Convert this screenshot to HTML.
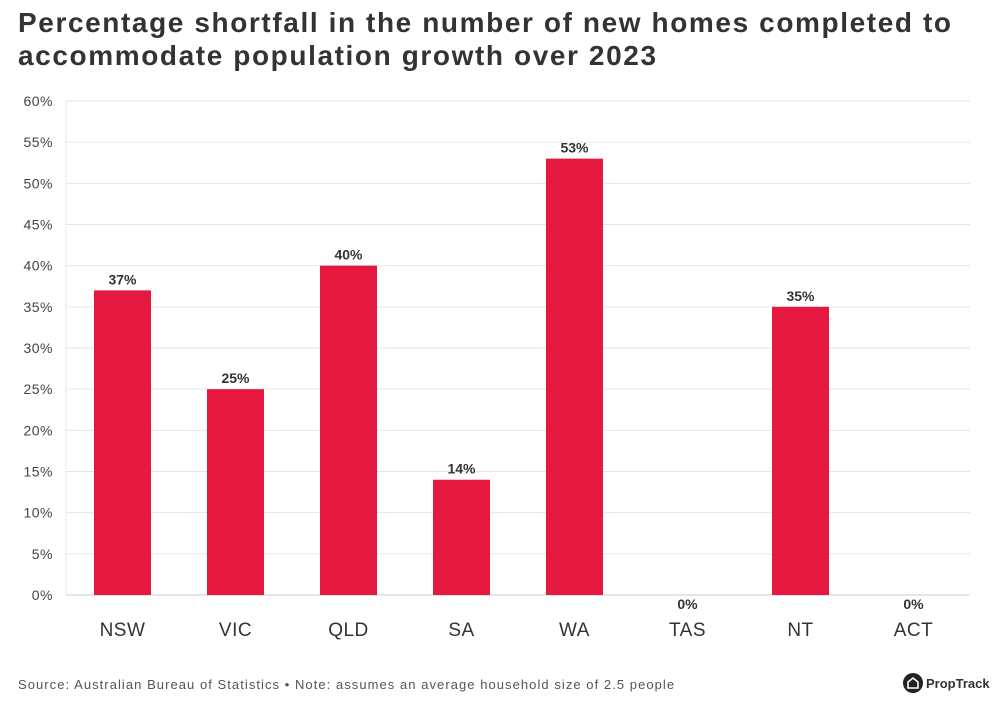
<!DOCTYPE html>
<html><head><meta charset="utf-8"><style>
body{margin:0;background:#fff;font-family:"Liberation Sans",sans-serif;}
#wrap{position:relative;width:998px;height:703px;overflow:hidden;}
h1{position:absolute;left:18px;top:6px;margin:0;font-size:28px;letter-spacing:1.6px;line-height:33px;font-weight:bold;color:#333;white-space:nowrap;}
.src{position:absolute;left:18px;top:677px;font-size:13px;letter-spacing:1.05px;color:#555;white-space:nowrap;}
.logo{position:absolute;left:903px;top:673px;font-size:13px;font-weight:bold;color:#333;display:flex;align-items:center;gap:3px;}
</style></head><body><div id="wrap">
<h1>Percentage shortfall in the number of new homes completed to<br>accommodate population growth over 2023</h1>
<svg id="chart" width="998" height="703" style="position:absolute;left:0;top:0"></svg>
<div class="src">Source: Australian Bureau of Statistics • Note: assumes an average household size of 2.5 people</div>
<div class="logo"><svg width="20" height="20" viewBox="0 0 20 20"><circle cx="10" cy="10" r="10" fill="#222"/><path d="M5 15V9L10 5L15 9V15Z" fill="none" stroke="#fff" stroke-width="1.6"/></svg>PropTrack</div>
</div>
<script>
const categories=["NSW","VIC","QLD","SA","WA","TAS","NT","ACT"];
const values=[37,25,40,14,53,0,35,0];
const yTicks=[0,5,10,15,20,25,30,35,40,45,50,55,60];
const svg=document.getElementById('chart');
const NS='http://www.w3.org/2000/svg';
const x0=66,x1=970,yb=595,yt=101,ymax=60;
const y=v=>yb-(v/ymax)*(yb-yt);
const band=(x1-x0)/categories.length;
const xc=i=>x0+band*(i+0.5);
function mk(t,a,txt){const e=document.createElementNS(NS,t);for(const k in a)e.setAttribute(k,a[k]);if(txt!==undefined)e.textContent=txt;svg.appendChild(e);return e;}
yTicks.forEach(t=>{
 const l=mk('line',{x1:x0,x2:x1,y1:y(t),y2:y(t),stroke:t===0?'#ccc':'#e6e6e6','stroke-width':1});
 
 
 const tx=mk('text',{x:53,y:y(t)+5,'text-anchor':'end','font-size':14,'letter-spacing':0.5,fill:'#444'},t+'%');
 
 
});
mk('line',{x1:x0,x2:x0,y1:yt,y2:yb,stroke:'#e6e6e6'});
categories.forEach((c,i)=>{
 const v=values[i];
 const r=mk('rect',{x:xc(i)-28.5,y:y(v),width:57,height:yb-y(v),fill:'#e5193f'});
 
 
 const ly=v===0?y(v)+14:y(v)-6;
 const lb=mk('text',{x:xc(i),y:ly,'text-anchor':'middle','font-size':14,'font-weight':'bold',fill:'#333'},v+'%');
 
 
 const xl=mk('text',{x:xc(i),y:636,'text-anchor':'middle','font-size':19,'letter-spacing':0.5,fill:'#333'},c);
 
 
});
</script></body></html>
